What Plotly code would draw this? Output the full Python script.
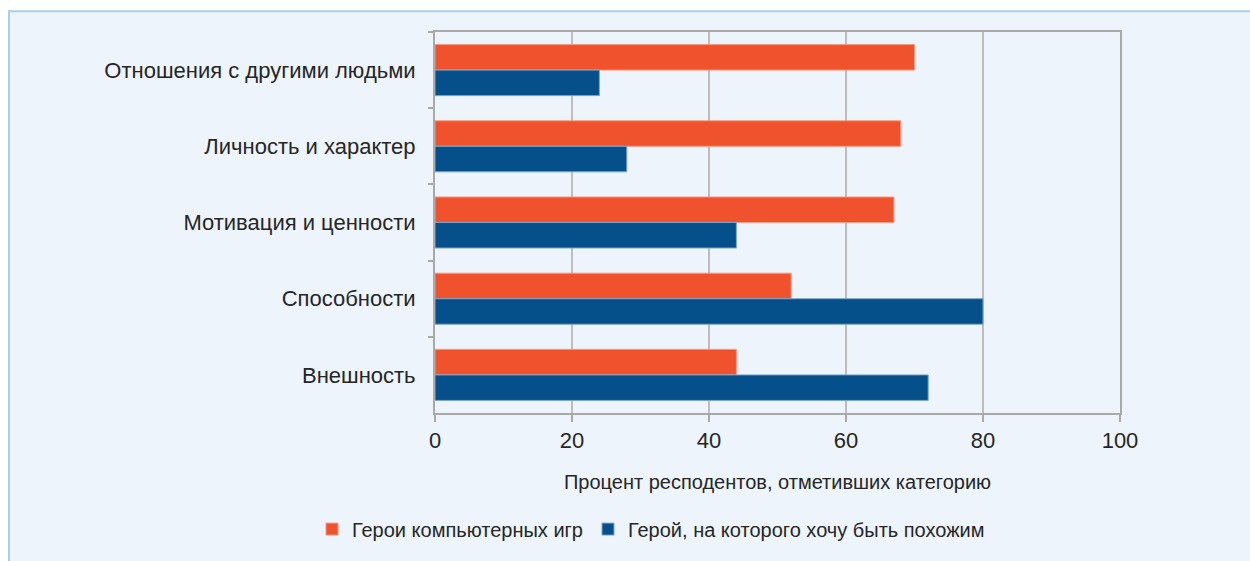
import plotly.graph_objects as go

categories = [
    "Отношения с другими людьми",
    "Личность и характер",
    "Мотивация и ценности",
    "Способности",
    "Внешность",
]
games_heroes = [70, 68, 67, 52, 44]
ideal_hero = [24, 28, 44, 80, 72]
series_names = ["Герои компьютерных игр", "Герой, на которого хочу быть похожим"]
x_ticks = [0, 20, 40, 60, 80, 100]
x_title = "Процент респодентов, отметивших категорию"

ORANGE = "#F0522D"
BLUE = "#05508A"
BG = "#EDF4FB"
GRID = "#BDBDBD"
BORDER = "#A8CFEE"
FONT = "Arial, Liberation Sans, sans-serif"

W, H = 1250, 561
L, R, T, B = 435, 130, 32, 145
PW, PH = W - L - R, H - T - B


def px_x(p):
    return (p - L) / PW


def px_y(p):
    return (H - B - p) / PH


fig = go.Figure()
fig.add_trace(go.Bar(
    y=categories, x=games_heroes, orientation="h", name=series_names[0],
    marker=dict(color=ORANGE, line=dict(color="#F79A84", width=1)),
))
fig.add_trace(go.Bar(
    y=categories, x=ideal_hero, orientation="h", name=series_names[1],
    marker=dict(color=BLUE, line=dict(color="#7FA6C8", width=1)),
))

fig.update_layout(
    width=W, height=H,
    margin=dict(l=L, r=R, t=T, b=B),
    paper_bgcolor="white",
    plot_bgcolor=BG,
    barmode="group",
    bargap=0.33,
    bargroupgap=0,
    font=dict(family=FONT, color="#262626", size=22),
    showlegend=True,
    legend=dict(
        orientation="h", x=px_x(312), xanchor="left",
        y=px_y(533), yanchor="middle",
        font=dict(size=20, family=FONT, color="#262626"),
        bgcolor="rgba(0,0,0,0)", itemwidth=30, traceorder="normal",
    ),
    shapes=[
        dict(type="rect", xref="paper", yref="paper",
             x0=px_x(9), x1=px_x(W + 30), y0=px_y(H + 30), y1=px_y(11),
             fillcolor=BG, line=dict(width=0), layer="below"),
        dict(type="line", xref="paper", yref="paper",
             x0=px_x(8), x1=px_x(W + 30), y0=px_y(11), y1=px_y(11),
             line=dict(color=BORDER, width=2), layer="below"),
        dict(type="line", xref="paper", yref="paper",
             x0=px_x(9), x1=px_x(9), y0=px_y(10), y1=px_y(H + 30),
             line=dict(color=BORDER, width=2), layer="below"),
    ],
)

fig.update_xaxes(
    range=[0, 100], tickvals=x_ticks, ticktext=[str(v) for v in x_ticks],
    showgrid=True, gridcolor=GRID, gridwidth=1.5,
    showline=True, linecolor="#A9A9A9", linewidth=2, mirror=True,
    ticks="outside", ticklen=7, tickcolor="#A9A9A9", tickwidth=1.5,
    tickfont=dict(size=22), zeroline=False,
    title=dict(text=x_title, font=dict(size=20), standoff=23),
)
fig.update_yaxes(
    autorange="reversed", categoryorder="array", categoryarray=categories,
    showline=True, linecolor="#A9A9A9", linewidth=2, mirror=True,
    ticks="outside", ticklen=5, tickcolor="#A9A9A9", tickwidth=1.5,
    tickson="boundaries", showgrid=False, tickfont=dict(size=22),
    ticklabelstandoff=13,
)

fig.write_html(
    "out.html",
    config={"displayModeBar": False},
    post_script="document.body.style.margin='0';document.body.style.overflow='hidden';",
)
